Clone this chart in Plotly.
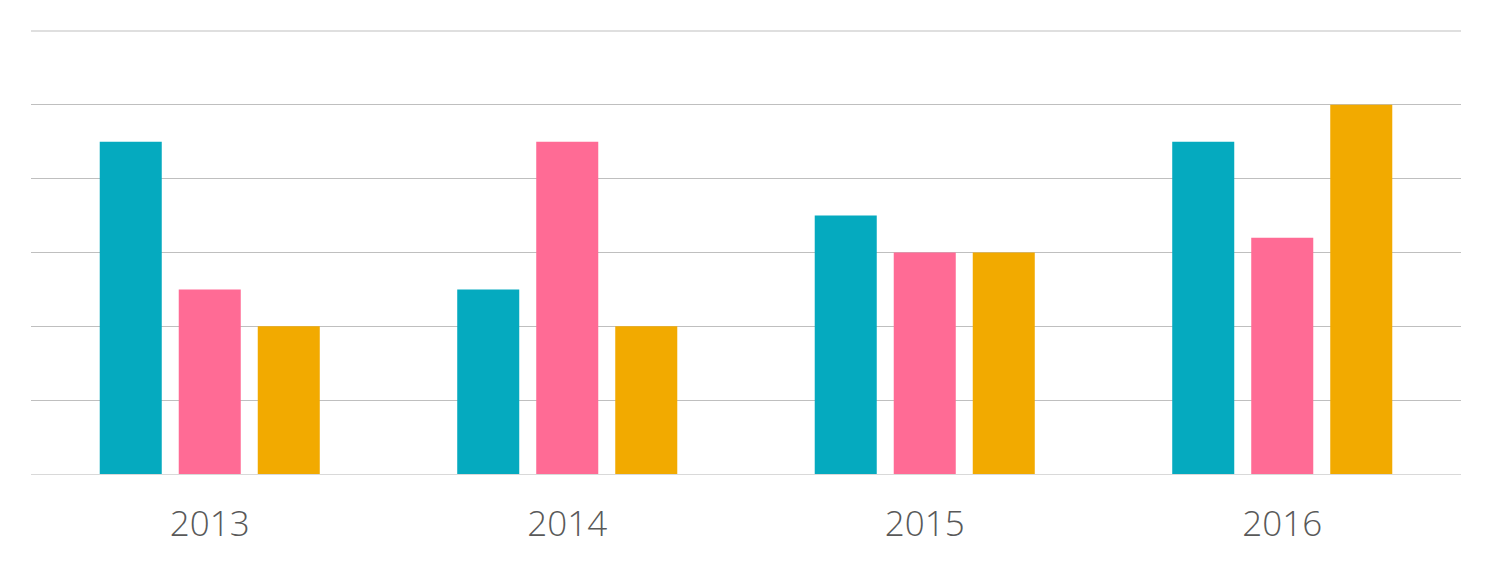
import plotly.graph_objects as go

years = ["2013", "2014", "2015", "2016"]
series_a = [4.5, 2.5, 3.5, 4.5]
series_b = [2.5, 4.5, 3.0, 3.2]
series_c = [2.0, 2.0, 3.0, 5.0]
colors = ["#05AABF", "#FF6B95", "#F2AA00"]
y_max = 6

fig = go.Figure()
for vals, col, name in zip([series_a, series_b, series_c], colors, ["A", "B", "C"]):
    fig.add_trace(go.Bar(x=years, y=vals, name=name, marker=dict(color=col, line=dict(width=0))))

# top gridline at the range maximum (plotly omits gridlines on the plot edge)
fig.add_shape(type="line", xref="paper", yref="paper", x0=0, x1=1, y0=1, y1=1,
              line=dict(color="#BFBFBF", width=1), layer="below")

fig.update_layout(
    width=1493, height=571,
    margin=dict(l=23, r=40, t=23, b=105),
    paper_bgcolor="white", plot_bgcolor="white",
    barmode="group", bargap=0.337, bargroupgap=0.215,
    showlegend=False,
    font=dict(family="Open Sans", weight=300, size=35, color="#595959"),
)
fig.update_xaxes(showgrid=False, showline=True, linecolor="#D9D9D9", linewidth=1,
                 ticks="outside", ticklen=19, tickcolor="rgba(0,0,0,0)",
                 tickfont=dict(family="Open Sans", weight=300, size=35, color="#595959"))
fig.update_yaxes(range=[0, y_max], tickvals=[1, 2, 3, 4, 5], showticklabels=False,
                 gridcolor="#BFBFBF", gridwidth=1, zeroline=False, showline=False)

fig.write_html("out.html")
